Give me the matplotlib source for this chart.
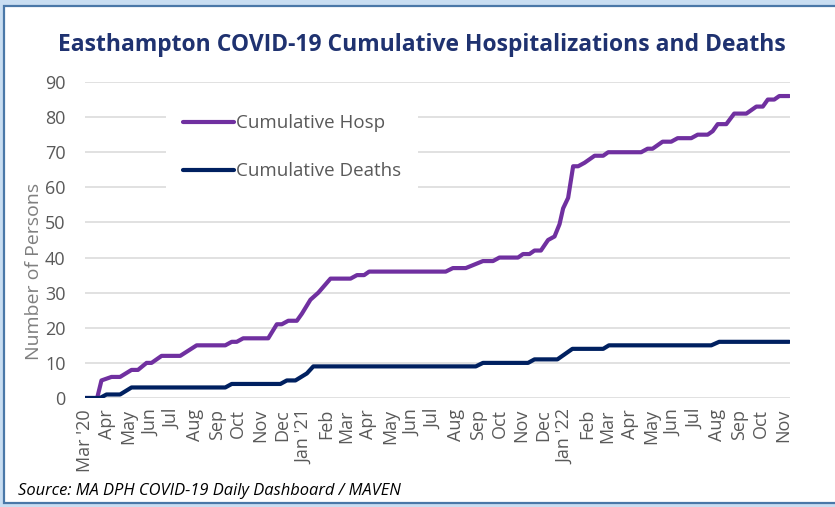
import matplotlib
matplotlib.use("Agg")
import matplotlib.pyplot as plt
import matplotlib.dates as mdates
from matplotlib.patches import Rectangle
import pandas as pd

# ---- data ----
hosp_dates = ["2020-03-01", "2020-03-18", "2020-03-24", "2020-04-07", "2020-04-19",
              "2020-05-05", "2020-05-14", "2020-05-26", "2020-06-02", "2020-06-16",
              "2020-07-12", "2020-08-04", "2020-09-13", "2020-09-22", "2020-09-29",
              "2020-10-08", "2020-11-12", "2020-11-24", "2020-12-01", "2020-12-10",
              "2020-12-22", "2020-12-29", "2021-01-10", "2021-01-21", "2021-02-07",
              "2021-03-07", "2021-03-16", "2021-03-26", "2021-04-02", "2021-07-18",
              "2021-07-28", "2021-08-15", "2021-08-27", "2021-09-08", "2021-09-22",
              "2021-10-01", "2021-10-27", "2021-11-03", "2021-11-12", "2021-11-19",
              "2021-11-28", "2021-12-08", "2021-12-17", "2021-12-24", "2021-12-29",
              "2022-01-05", "2022-01-12", "2022-01-19", "2022-01-28", "2022-02-11",
              "2022-02-23", "2022-03-02", "2022-04-17", "2022-04-26", "2022-05-03",
              "2022-05-17", "2022-05-29", "2022-06-07", "2022-06-26", "2022-07-05",
              "2022-07-19", "2022-07-26", "2022-08-02", "2022-08-14", "2022-08-25",
              "2022-09-11", "2022-09-25", "2022-10-04", "2022-10-11", "2022-10-20",
              "2022-10-27", "2022-11-10"]
hosp_values = [0, 0, 5, 6, 6,
               8, 8, 10, 10, 12,
               12, 15, 15, 16, 16,
               17, 17, 21, 21, 22,
               22, 24, 28, 30, 34,
               34, 35, 35, 36, 36,
               37, 37, 38, 39, 39,
               40, 40, 41, 41, 42,
               42, 45, 46, 49.5, 54,
               57, 66, 66, 67, 69,
               69, 70, 70, 71, 71,
               73, 73, 74, 74, 75,
               75, 76, 78, 78, 81,
               81, 83, 83, 85, 85,
               86, 86]

death_dates = ["2020-03-01", "2020-03-22", "2020-03-31", "2020-04-19", "2020-05-05",
               "2020-09-13", "2020-09-22", "2020-11-29", "2020-12-08", "2020-12-20",
               "2021-01-05", "2021-01-14", "2021-08-29", "2021-09-08", "2021-11-10",
               "2021-11-19", "2021-12-21", "2022-01-11", "2022-02-23", "2022-03-03",
               "2022-07-24", "2022-08-04", "2022-11-10"]
death_values = [0, 0, 1, 1, 3,
                3, 4, 4, 5, 5,
                7, 9, 9, 10, 10,
                11, 11, 14, 14, 15,
                15, 16, 16]

series_labels = ["Cumulative Hosp", "Cumulative Deaths"]
title_text = "Easthampton COVID-19 Cumulative Hospitalizations and Deaths"
y_label = "Number of Persons"
source_text = "Source: MA DPH COVID-19 Daily Dashboard / MAVEN"
y_ticks = [0, 10, 20, 30, 40, 50, 60, 70, 80, 90]

# ---- figure ----
W, H = 835, 507
fig = plt.figure(figsize=(W / 100, H / 100), dpi=100)
fig.patch.set_facecolor("#c9def2")
fig.patches.append(Rectangle((4 / W, 4 / H), (W + 10) / W, (H - 10) / H,
                             transform=fig.transFigure, facecolor="white",
                             edgecolor="#4a78a8", linewidth=1.6, zorder=-5))

ax = fig.add_axes([85 / W, 1 - 398 / H, (790 - 85) / W, (398 - 82) / H])
ax.set_facecolor("none")
ax.set_zorder(2)

hd = pd.to_datetime(hosp_dates)
dd = pd.to_datetime(death_dates)
l1, = ax.plot(hd, hosp_values, color="#7030a0", lw=3.0, solid_capstyle="round",
              solid_joinstyle="round", label=series_labels[0], zorder=3)
l2, = ax.plot(dd, death_values, color="#002060", lw=3.0, solid_capstyle="round",
              solid_joinstyle="round", label=series_labels[1], zorder=3)

ax.set_xlim(pd.Timestamp("2020-03-01"), pd.Timestamp("2022-11-11"))
ax.set_ylim(0, 90)
ax.set_yticks(y_ticks)
ax.yaxis.grid(True, color="#d9d9d9", lw=1.1)
ax.set_axisbelow(True)
for s in ax.spines.values():
    s.set_visible(False)

ax.xaxis.set_major_locator(mdates.MonthLocator())


def fmt(x, pos=None):
    d = mdates.num2date(x)
    if d.month == 1 or (d.year == 2020 and d.month == 3):
        return d.strftime("%b '%y")
    return d.strftime("%b")


ax.xaxis.set_major_formatter(plt.FuncFormatter(fmt))
ax.tick_params(axis="x", length=0, pad=8, labelsize=13, labelcolor="#595959",
               rotation=90)
ax.tick_params(axis="y", length=0, pad=14, labelsize=13, labelcolor="#595959")
for lab in ax.get_xticklabels() + ax.get_yticklabels():
    lab.set_family("Open Sans")

ax.set_ylabel(y_label, fontsize=14, color="#7f7f7f", family="Open Sans")
ax.yaxis.set_label_coords(-42 / (790 - 85), (398 - 271) / (398 - 82))

leg = ax.legend(handles=[l1, l2], loc="upper left",
                bbox_to_anchor=((157 - 85) / (790 - 85), (398 - 88) / (398 - 82)),
                frameon=True, facecolor="white", edgecolor="none", framealpha=1,
                handlelength=2.7, handletextpad=0.1, labelspacing=1.6,
                borderpad=0.9, prop={"family": "Open Sans", "size": 13.5})
leg.get_frame().set_boxstyle("square", pad=0)
for t in leg.get_texts():
    t.set_color("#595959")

fig.text(422 / W, 1 - 45 / H, title_text, ha="center", va="center",
         fontsize=16.5, fontweight="bold", color="#1f3270", family="Open Sans")
fig.text(18 / W, 1 - 491 / H, source_text, ha="left", va="center",
         fontsize=11.9, style="italic", color="#000000", family="Open Sans")

fig.savefig("out.png", dpi=100, facecolor=fig.get_facecolor())
